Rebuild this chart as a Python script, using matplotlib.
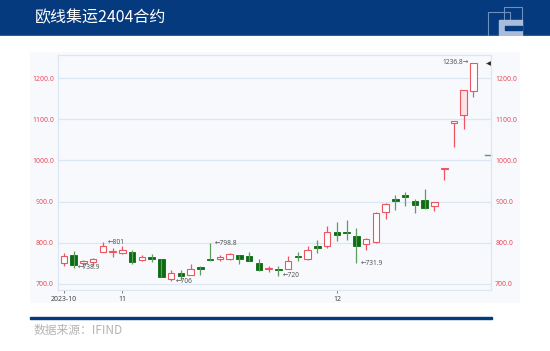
import matplotlib.pyplot as plt
from matplotlib.patches import Rectangle

plt.rcParams['font.family'] = ['Noto Sans', 'DejaVu Sans']

# OHLC per trading day, 2023-10-24 .. 2023-12-21
opens = [751, 770, 750, 752, 778, 777, 774, 778.5, 758, 766, 760, 711, 726, 722, 742,
         760, 761.5, 761, 769.6, 767, 750, 737, 736, 736.4, 767, 761.5, 793, 791.4, 825.4,
         826, 815.7, 797, 802, 875, 904.9, 916, 900.8, 903, 888.5, 980, 1090, 1111, 1168]
closes = [767, 745, 756.6, 760, 791.4, 779.5, 783, 754, 765.5, 761.5, 717, 726.7, 718.6, 737, 737,
          757, 764, 773.6, 760, 756, 733, 739.6, 733, 756.6, 764, 783, 788, 827, 818,
          823, 793, 809, 871.5, 893.5, 900.8, 910.6, 892.6, 883.7, 898, 981.5, 1095, 1170, 1236.8]
highs = [774, 780, 759, 763, 801, 788, 792, 781.7, 769.6, 772.8, 760.7, 733, 734, 748.5, 744.5,
         798.8, 769, 775, 771, 778.5, 761.5, 744.5, 743, 767, 777.7, 791.4, 806.8, 841.6, 850.5,
         856, 836, 811.6, 875.7, 897.6, 916, 923.5, 905, 931.4, 898, 981.5, 1096, 1172, 1236.8]
lows = [744, 738.9, 741, 744.5, 777.7, 766, 773.6, 747, 756, 753.4, 716, 706, 710.5, 722, 722.6,
        756, 756.6, 759, 747, 756, 730, 728.3, 720, 736, 756.6, 757.4, 775, 787.4, 805,
        807.6, 750, 781, 799.5, 857.8, 879, 889.5, 872, 882, 878, 953, 1032, 1077, 1153]

tick_pos = [0, 6, 28]
tick_labels = ['2023-10', '11', '12']
y_ticks = [700, 800, 900, 1000, 1100, 1200]

# labelled extremes: (index, value, text, side)
notes = [(1, 738.9, '←738.9', 'r'), (4, 801, '←801', 'r'), (11, 706, '←706', 'r'),
         (15, 798.8, '←798.8', 'r'), (22, 720, '←720', 'r'), (30, 750, '←731.9', 'r'),
         (42, 1236.8, '1236.8→', 'l')]

RED = '#ee5560'
GREEN_BODY = '#0b6b10'
GREEN_WICK = '#5c9f5c'
BLUE = '#063a7e'
TICK_RED = '#e8505a'

fig = plt.figure(figsize=(5.5, 3.51), dpi=100)
W, H = 550, 351

def fr(x0, y0, x1, y1):
    return [x0 / W, 1 - y1 / H, (x1 - x0) / W, (y1 - y0) / H]

# header band
hdr = fig.add_axes(fr(0, 0, 550, 36))
hdr.set_xlim(0, 550); hdr.set_ylim(36, 0); hdr.axis('off')
hdr.add_patch(Rectangle((0, 0), 550, 36, color=BLUE))
hdr.add_patch(Rectangle((0, 34.5), 550, 1.5, color='#2d5a98'))
hdr.text(35, 18, '欧线集运2404合约', color='white', fontsize=11.5,
         family=['Noto Sans CJK SC', 'DejaVu Sans'], va='center', ha='left')
hdr.add_patch(Rectangle((488, 12), 22, 24, fill=False, ec='#6f8fbf', lw=0.8))
hdr.add_patch(Rectangle((504, 7), 18, 20, fill=False, ec='#6f8fbf', lw=0.8))
hdr.add_patch(Rectangle((499, 20), 23, 16, color='#a9bcdc'))
hdr.add_patch(Rectangle((505, 26), 17, 4, color=BLUE))

# light panel behind the chart
pan = fig.add_axes(fr(30, 52, 520, 303))
pan.set_xlim(0, 1); pan.set_ylim(0, 1); pan.axis('off')
pan.add_patch(Rectangle((0, 0), 1, 1, color='#f7f9fd'))

ax = fig.add_axes(fr(58, 55, 491, 290))
ax.set_facecolor('#f7f9fd')
bw = 0.68
for i, (o, c, h, l) in enumerate(zip(opens, closes, highs, lows)):
    up = c >= o
    lo_b, hi_b = min(o, c), max(o, c)
    if up:
        ax.plot([i, i], [l, lo_b], color=RED, lw=0.9, solid_capstyle='butt')
        ax.plot([i, i], [hi_b, h], color=RED, lw=0.9, solid_capstyle='butt')
        ax.add_patch(Rectangle((i - bw / 2, lo_b), bw, max(hi_b - lo_b, 1.2),
                               fc='white' if i != 41 else '#fde3e6', ec=RED, lw=0.8))
    else:
        ax.plot([i, i], [l, h], color=GREEN_WICK, lw=0.9, solid_capstyle='butt')
        ax.add_patch(Rectangle((i - bw / 2, lo_b), bw, max(hi_b - lo_b, 2),
                               fc=GREEN_BODY, ec=GREEN_BODY, lw=0.6))

for i, v, t, side in notes:
    if side == 'r':
        ax.text(i + 0.45, v, t, fontsize=4.8, color='#555555', va='center', ha='left')
    else:
        ax.text(i - 0.45, v, t, fontsize=4.8, color='#555555', va='center', ha='right')

# last price markers at right edge
ax.plot([43.25, 43.55], [1236.8, 1236.8], color=RED, lw=0.8, clip_on=False)
ax.plot([43.6], [1236.8], marker='<', color='#222222', ms=2.5, clip_on=False)
ax.plot([43.2, 43.75], [1012, 1012], color=GREEN_WICK, lw=1.0, clip_on=False)

ax.set_xlim(-0.6, 43.8)
ax.set_ylim(685, 1256)
ax.set_yticks(y_ticks)
ax.set_yticklabels([f'{v:.1f}' for v in y_ticks])
ax.set_xticks(tick_pos)
ax.set_xticklabels(tick_labels)
ax.tick_params(axis='y', which='both', length=0, labelsize=5, labelcolor=TICK_RED,
               left=True, right=True, labelleft=True, labelright=True, pad=3)
ax.tick_params(axis='x', length=2.5, width=0.6, color='#666666', labelsize=5,
               labelcolor='#444444', pad=1.5)
ax.grid(axis='y', color='#dde6f3', lw=0.9)
ax.set_axisbelow(True)
for s in ax.spines.values():
    s.set_color('#dde6f3')
    s.set_linewidth(0.9)

# footer
ft = fig.add_axes(fr(0, 310, 550, 351))
ft.set_xlim(0, 550); ft.set_ylim(41, 0); ft.axis('off')
ft.add_patch(Rectangle((30, 6.5), 462, 2, color=BLUE))
ft.text(34, 20, '数据来源：IFIND', color='#b4b4b4', fontsize=8.5,
        family=['Noto Sans CJK SC', 'DejaVu Sans'], va='center', ha='left')

fig.savefig('out.png', dpi=100)
